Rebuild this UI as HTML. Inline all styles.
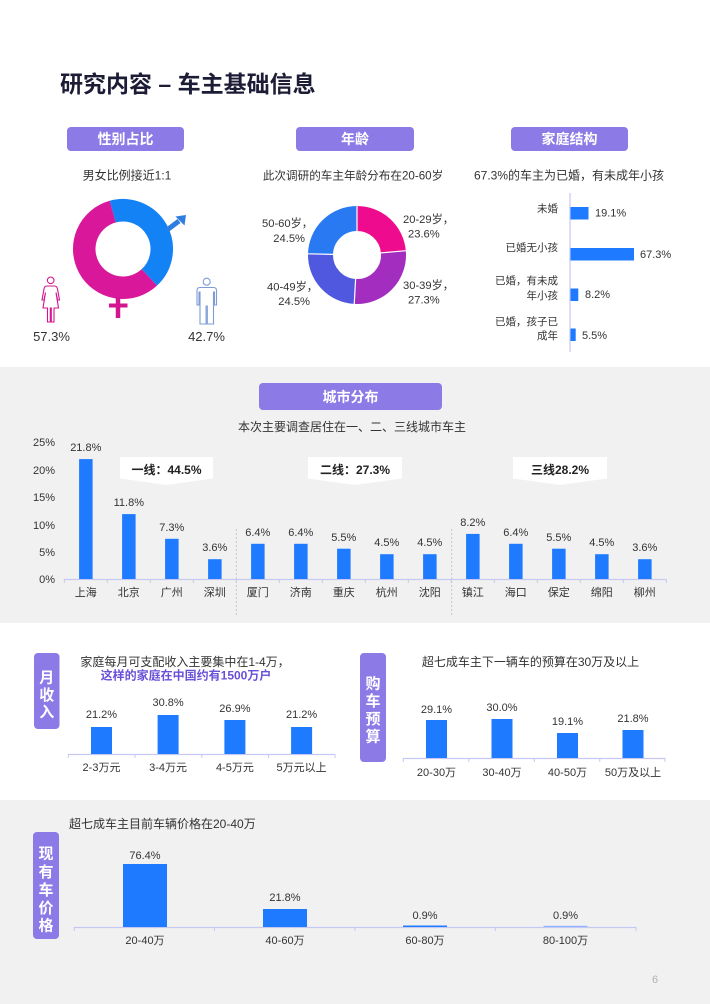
<!DOCTYPE html>
<html><head><meta charset="utf-8">
<style>
html,body{margin:0;padding:0;background:#fff;}
svg{display:block;}
text{font-family:"Liberation Sans","Noto Sans CJK SC",sans-serif;}
</style></head>
<body>
<svg width="710" height="1004" viewBox="0 0 710 1004" xmlns="http://www.w3.org/2000/svg">
<rect x="0" y="0" width="710" height="1004" fill="#ffffff"/>
<rect x="0" y="367" width="710" height="256" fill="#f1f1f1"/>
<rect x="0" y="800" width="710" height="204" fill="#f1f1f1"/>

<!-- Title -->
<text x="60" y="92" font-size="23" font-weight="bold" fill="#1c1c36">研究内容 – 车主基础信息</text>

<!-- Pills top -->
<rect x="67" y="127" width="117" height="24" rx="4" fill="#8c7ae6"/>
<text x="125.5" y="144" font-size="14" font-weight="bold" fill="#fff" text-anchor="middle">性别占比</text>
<rect x="296" y="127" width="118" height="24" rx="4" fill="#8c7ae6"/>
<text x="355" y="144" font-size="14" font-weight="bold" fill="#fff" text-anchor="middle">年龄</text>
<rect x="511" y="127" width="117" height="24" rx="4" fill="#8c7ae6"/>
<text x="569.5" y="144" font-size="14" font-weight="bold" fill="#fff" text-anchor="middle">家庭结构</text>

<!-- Subtitles -->
<text x="127" y="179.5" font-size="12" fill="#333" text-anchor="middle">男女比例接近1:1</text>
<text x="353" y="179.5" font-size="11.6" fill="#333" text-anchor="middle">此次调研的车主年龄分布在20-60岁</text>
<text x="569" y="179.5" font-size="12" fill="#333" text-anchor="middle">67.3%的车主为已婚，有未成年小孩</text>

<!-- Gender donut -->
<path d="M112.71,211.64 A38.75,38.75 0 0 1 149.33,277.43" fill="none" stroke="#1282f5" stroke-width="22.5"/>
<path d="M149.33,277.43 A38.75,38.75 0 1 1 112.71,211.64" fill="none" stroke="#d9179b" stroke-width="22.5"/>
<!-- male arrow -->
<line x1="167" y1="230" x2="179" y2="221" stroke="#2f7de1" stroke-width="5"/>
<polygon points="186,215 175.5,216.5 184.5,225.5" fill="#2f7de1"/>
<!-- female cross -->
<line x1="118" y1="297" x2="118" y2="318" stroke="#d3168f" stroke-width="4.5"/>
<line x1="109" y1="305.5" x2="127.5" y2="305.5" stroke="#d3168f" stroke-width="4"/>

<!-- female icon -->
<circle cx="50.7" cy="280.3" r="3.3" fill="none" stroke="#d3168f" stroke-width="1.1"/>
<path d="M47,286 L54.5,286 Q57,286 57.5,289 L59.5,300 L57.6,300 L56,292.5 L58.5,308 L54,308 L54,322 L51.3,322 L51.3,308 L50.3,308 L50.3,322 L47.5,322 L47.5,308 L43,308 L45.5,292.5 L44,300 L42,300 L44,289 Q44.5,286 47,286 Z" fill="none" stroke="#d3168f" stroke-width="1.1"/>
<!-- male icon -->
<circle cx="206.7" cy="281.7" r="3.5" fill="none" stroke="#7d9cd6" stroke-width="1.1"/>
<path d="M200,287.5 H213.5 Q216.5,287.5 216.5,290.5 V305 H214.5 V292 H213.5 V324 H207.3 V306 H206.1 V324 H200 V292 H199 V305 H197 V290.5 Q197,287.5 200,287.5 Z" fill="none" stroke="#7d9cd6" stroke-width="1.1"/>

<text x="51.5" y="341" font-size="13" fill="#333" text-anchor="middle">57.3%</text>
<text x="206.5" y="341" font-size="13" fill="#333" text-anchor="middle">42.7%</text>

<!-- Age donut -->
<g fill="none" stroke-width="25">
<path d="M357,218.5 A36.5,36.5 0 0 1 393.36,251.82" stroke="#ee0b8d"/>
<path d="M393.36,251.82 A36.5,36.5 0 0 1 354.94,291.44" stroke="#a22dbf"/>
<path d="M354.94,291.44 A36.5,36.5 0 0 1 320.51,254.08" stroke="#5058e0"/>
<path d="M320.51,254.08 A36.5,36.5 0 0 1 357,218.5" stroke="#2979f2"/>
</g>
<g stroke="#fff" stroke-width="1.2">
<line x1="357" y1="231" x2="357" y2="205"/>
<line x1="381" y1="252.9" x2="406.2" y2="250.7"/>
<line x1="355.6" y1="279" x2="354.2" y2="304.9"/>
<line x1="333" y1="254.4" x2="307.9" y2="253.8"/>
</g>
<g font-size="11.2" fill="#333">
<text x="403" y="223">20-29岁，</text>
<text x="408" y="237.5">23.6%</text>
<text x="403" y="289">30-39岁，</text>
<text x="408" y="303.5">27.3%</text>
<text x="313" y="227" text-anchor="end">50-60岁，</text>
<text x="305" y="242" text-anchor="end">24.5%</text>
<text x="318" y="290.5" text-anchor="end">40-49岁，</text>
<text x="310" y="305" text-anchor="end">24.5%</text>
</g>

<!-- Family structure -->
<line x1="570" y1="193" x2="570" y2="352" stroke="#c5c8f3" stroke-width="1.2"/>
<rect x="570.5" y="207" width="18" height="12.5" fill="#1e7bff"/>
<rect x="570.5" y="248" width="63.5" height="12.5" fill="#1e7bff"/>
<rect x="570.5" y="288.5" width="7.8" height="12.5" fill="#1e7bff"/>
<rect x="570.5" y="328.5" width="5.2" height="12.5" fill="#1e7bff"/>
<g font-size="11" fill="#333">
<text x="595" y="216.5">19.1%</text>
<text x="640" y="258">67.3%</text>
<text x="585" y="298">8.2%</text>
<text x="582" y="339">5.5%</text>
</g>
<g font-size="10.5" fill="#333" text-anchor="end">
<text x="558" y="212">未婚</text>
<text x="558" y="251">已婚无小孩</text>
<text x="558" y="284">已婚，有未成</text>
<text x="558" y="299">年小孩</text>
<text x="558" y="325">已婚，孩子已</text>
<text x="558" y="339">成年</text>
</g>

<!-- City section -->
<rect x="259" y="383" width="183" height="27" rx="4" fill="#8c7ae6"/>
<text x="350.5" y="402" font-size="14" font-weight="bold" fill="#fff" text-anchor="middle">城市分布</text>
<text x="352" y="431" font-size="12" fill="#333" text-anchor="middle">本次主要调查居住在一、二、三线城市车主</text>

<g font-size="11" fill="#333" text-anchor="end">
<text x="55" y="446">25%</text>
<text x="55" y="474">20%</text>
<text x="55" y="501">15%</text>
<text x="55" y="529">10%</text>
<text x="55" y="556">5%</text>
<text x="55" y="583">0%</text>
</g>

<!-- callouts -->
<polygon points="120,457 213,457 213,478.5 166.5,485 120,478.5" fill="#fff"/>
<polygon points="308,457 402,457 402,478.5 355,485 308,478.5" fill="#fff"/>
<polygon points="513,457 607,457 607,478.5 560,485 513,478.5" fill="#fff"/>
<g font-size="12" font-weight="bold" fill="#222" text-anchor="middle">
<text x="166.5" y="474">一线：44.5%</text>
<text x="355" y="474">二线：27.3%</text>
<text x="560" y="474">三线28.2%</text>
</g>

<!-- separators -->
<line x1="236.3" y1="529" x2="236.3" y2="616" stroke="#c8c8c8" stroke-width="1" stroke-dasharray="2,2"/>
<line x1="451.7" y1="529" x2="451.7" y2="616" stroke="#c8c8c8" stroke-width="1" stroke-dasharray="2,2"/>

<!-- axis -->
<line x1="64" y1="579.5" x2="666" y2="579.5" stroke="#c5c8f3" stroke-width="1.2"/>
<g stroke="#c5c8f3" stroke-width="1">
<line x1="64.3" y1="579" x2="64.3" y2="583"/><line x1="107.3" y1="579" x2="107.3" y2="583"/><line x1="150.3" y1="579" x2="150.3" y2="583"/><line x1="193.3" y1="579" x2="193.3" y2="583"/><line x1="236.3" y1="579" x2="236.3" y2="583"/><line x1="279.3" y1="579" x2="279.3" y2="583"/><line x1="322.3" y1="579" x2="322.3" y2="583"/><line x1="365.3" y1="579" x2="365.3" y2="583"/><line x1="408.3" y1="579" x2="408.3" y2="583"/><line x1="451.3" y1="579" x2="451.3" y2="583"/><line x1="494.3" y1="579" x2="494.3" y2="583"/><line x1="537.3" y1="579" x2="537.3" y2="583"/><line x1="580.3" y1="579" x2="580.3" y2="583"/><line x1="623.3" y1="579" x2="623.3" y2="583"/><line x1="666.3" y1="579" x2="666.3" y2="583"/>
</g>
<g fill="#1e7bff">
<rect x="79.1" y="459.1" width="13.5" height="119.9"/>
<rect x="122.1" y="514.1" width="13.5" height="64.9"/>
<rect x="165.1" y="538.8" width="13.5" height="40.2"/>
<rect x="208.1" y="559.2" width="13.5" height="19.8"/>
<rect x="251.1" y="543.8" width="13.5" height="35.2"/>
<rect x="294.1" y="543.8" width="13.5" height="35.2"/>
<rect x="337.1" y="548.7" width="13.5" height="30.3"/>
<rect x="380.1" y="554.2" width="13.5" height="24.8"/>
<rect x="423.1" y="554.2" width="13.5" height="24.8"/>
<rect x="466.1" y="533.9" width="13.5" height="45.1"/>
<rect x="509.1" y="543.8" width="13.5" height="35.2"/>
<rect x="552.1" y="548.7" width="13.5" height="30.3"/>
<rect x="595.1" y="554.2" width="13.5" height="24.8"/>
<rect x="638.1" y="559.2" width="13.5" height="19.8"/>
</g>
<g font-size="11" fill="#333" text-anchor="middle">
<text x="85.8" y="451">21.8%</text>
<text x="128.8" y="506">11.8%</text>
<text x="171.8" y="531">7.3%</text>
<text x="214.8" y="551">3.6%</text>
<text x="257.8" y="536">6.4%</text>
<text x="300.8" y="536">6.4%</text>
<text x="343.8" y="541">5.5%</text>
<text x="386.8" y="546">4.5%</text>
<text x="429.8" y="546">4.5%</text>
<text x="472.8" y="526">8.2%</text>
<text x="515.8" y="536">6.4%</text>
<text x="558.8" y="541">5.5%</text>
<text x="601.8" y="546">4.5%</text>
<text x="644.8" y="551">3.6%</text>
</g>
<g font-size="11" fill="#333" text-anchor="middle">
<text x="85.8" y="596">上海</text>
<text x="128.8" y="596">北京</text>
<text x="171.8" y="596">广州</text>
<text x="214.8" y="596">深圳</text>
<text x="257.8" y="596">厦门</text>
<text x="300.8" y="596">济南</text>
<text x="343.8" y="596">重庆</text>
<text x="386.8" y="596">杭州</text>
<text x="429.8" y="596">沈阳</text>
<text x="472.8" y="596">镇江</text>
<text x="515.8" y="596">海口</text>
<text x="558.8" y="596">保定</text>
<text x="601.8" y="596">绵阳</text>
<text x="644.8" y="596">柳州</text>
</g>

<!-- Income -->
<rect x="34" y="653" width="25.5" height="76" rx="4" fill="#8c7ae6"/>
<g font-size="15" font-weight="bold" fill="#fff" text-anchor="middle">
<text x="46.7" y="682.5">月</text>
<text x="46.7" y="700">收</text>
<text x="46.7" y="717">入</text>
</g>
<text x="185" y="666" font-size="12" fill="#333" text-anchor="middle">家庭每月可支配收入主要集中在1-4万，</text>
<text x="186" y="679.5" font-size="12" font-weight="bold" fill="#6a4fd8" text-anchor="middle">这样的家庭在中国约有1500万户</text>
<line x1="68" y1="754.5" x2="335" y2="754.5" stroke="#c5c8f3" stroke-width="1.2"/>
<g stroke="#c5c8f3" stroke-width="1">
<line x1="68.3" y1="754" x2="68.3" y2="758"/><line x1="135" y1="754" x2="135" y2="758"/><line x1="201.8" y1="754" x2="201.8" y2="758"/><line x1="268.5" y1="754" x2="268.5" y2="758"/><line x1="335" y1="754" x2="335" y2="758"/>
</g>
<g fill="#1e7bff">
<rect x="91" y="727" width="21" height="27"/>
<rect x="157.6" y="715" width="21" height="39"/>
<rect x="224.4" y="720" width="21" height="34"/>
<rect x="291.1" y="727" width="21" height="27"/>
</g>
<g font-size="11" fill="#333" text-anchor="middle">
<text x="101.5" y="718">21.2%</text>
<text x="168.1" y="706">30.8%</text>
<text x="234.9" y="712">26.9%</text>
<text x="301.6" y="718">21.2%</text>
<text x="101.5" y="771">2-3万元</text>
<text x="168.1" y="771">3-4万元</text>
<text x="234.9" y="771">4-5万元</text>
<text x="301.6" y="771">5万元以上</text>
</g>

<!-- Budget -->
<rect x="360" y="653" width="26" height="109" rx="4" fill="#8c7ae6"/>
<g font-size="15" font-weight="bold" fill="#fff" text-anchor="middle">
<text x="373" y="688.5">购</text>
<text x="373" y="706">车</text>
<text x="373" y="724">预</text>
<text x="373" y="741.5">算</text>
</g>
<text x="530.5" y="666" font-size="12" fill="#333" text-anchor="middle">超七成车主下一辆车的预算在30万及以上</text>
<line x1="403" y1="758.5" x2="665" y2="758.5" stroke="#c5c8f3" stroke-width="1.2"/>
<g stroke="#c5c8f3" stroke-width="1">
<line x1="403.3" y1="758" x2="403.3" y2="762"/><line x1="468.8" y1="758" x2="468.8" y2="762"/><line x1="534.3" y1="758" x2="534.3" y2="762"/><line x1="599.8" y1="758" x2="599.8" y2="762"/><line x1="665" y1="758" x2="665" y2="762"/>
</g>
<g fill="#1e7bff">
<rect x="426" y="720" width="21" height="38"/>
<rect x="491.5" y="719" width="21" height="39"/>
<rect x="557" y="733" width="21" height="25"/>
<rect x="622.5" y="730" width="21" height="28"/>
</g>
<g font-size="11" fill="#333" text-anchor="middle">
<text x="436.5" y="713">29.1%</text>
<text x="502" y="711">30.0%</text>
<text x="567.5" y="725">19.1%</text>
<text x="633" y="722">21.8%</text>
<text x="436.5" y="776">20-30万</text>
<text x="502" y="776">30-40万</text>
<text x="567.5" y="776">40-50万</text>
<text x="633" y="776">50万及以上</text>
</g>

<!-- Current car price -->
<rect x="33" y="832" width="26" height="107" rx="4" fill="#8c7ae6"/>
<g font-size="15" font-weight="bold" fill="#fff" text-anchor="middle">
<text x="46" y="858.5">现</text>
<text x="46" y="877">有</text>
<text x="46" y="895">车</text>
<text x="46" y="913">价</text>
<text x="46" y="930.5">格</text>
</g>
<text x="69" y="828" font-size="12" fill="#333">超七成车主目前车辆价格在20-40万</text>
<line x1="74" y1="927.5" x2="636" y2="927.5" stroke="#c5c8f3" stroke-width="1.2"/>
<g stroke="#c5c8f3" stroke-width="1">
<line x1="74.3" y1="927" x2="74.3" y2="931"/><line x1="214.5" y1="927" x2="214.5" y2="931"/><line x1="355" y1="927" x2="355" y2="931"/><line x1="495.3" y1="927" x2="495.3" y2="931"/><line x1="636" y1="927" x2="636" y2="931"/>
</g>
<g fill="#1e7bff">
<rect x="123" y="864" width="44" height="63"/>
<rect x="263" y="909" width="44" height="18"/>
<rect x="403" y="925.5" width="44" height="1.5"/>
</g>
<rect x="543.5" y="925.8" width="44" height="1.2" fill="#8fb4ff"/>
<g font-size="11" fill="#333" text-anchor="middle">
<text x="145" y="859">76.4%</text>
<text x="285" y="901">21.8%</text>
<text x="425" y="919">0.9%</text>
<text x="565.5" y="919">0.9%</text>
<text x="145" y="944">20-40万</text>
<text x="285" y="944">40-60万</text>
<text x="425" y="944">60-80万</text>
<text x="565.5" y="944">80-100万</text>
</g>
<text x="655" y="983" font-size="11" fill="#b0b0b0" text-anchor="middle">6</text>
</svg>
</body></html>
